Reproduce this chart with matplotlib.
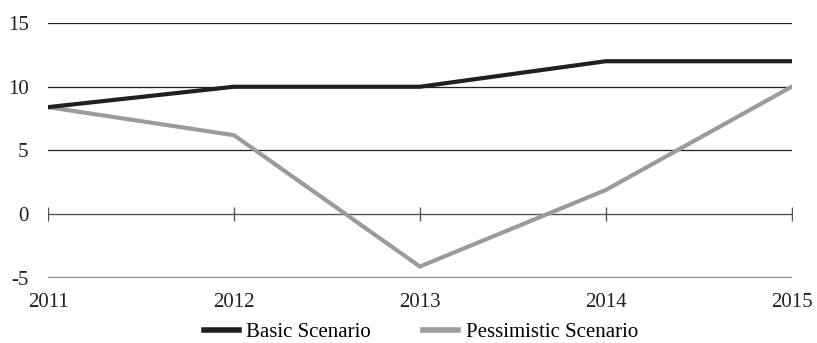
import matplotlib.pyplot as plt

# scenario data
years = [2011, 2012, 2013, 2014, 2015]
basic = [8.4, 10.0, 10.0, 12.0, 12.0]
pessimistic = [8.4, 6.2, -4.1, 1.9, 10.0]
y_ticks = [-5, 0, 5, 10, 15]

plt.rcParams["font.family"] = ["Liberation Serif", "DejaVu Serif"]
plt.rcParams["axes.unicode_minus"] = False

fig = plt.figure(figsize=(8.17, 3.43), dpi=100)
ax = fig.add_axes([0.0588, 0.1895, 0.9102, 0.7435])

# horizontal reference lines
for v in y_ticks:
    if v > 0:
        ax.axhline(v, color="#231f20", linewidth=0.9, zorder=1)
ax.axhline(-5, color="#8a8a8a", linewidth=1.6, zorder=1)
# zero line with year ticks
ax.plot(years, [0] * len(years), color="#555555", linewidth=1.0,
        marker="|", markersize=9.5, markeredgewidth=1.0, zorder=1)

ax.plot(years, basic, color="#231f20", linewidth=3.0, label="Basic Scenario",
        solid_joinstyle="miter", zorder=3)
ax.plot(years, pessimistic, color="#9b9b9b", linewidth=3.0,
        label="Pessimistic Scenario", solid_joinstyle="miter", zorder=2)

ax.set_xlim(years[0], years[-1])
ax.set_ylim(-5, 15)
ax.set_xticks(years)
ax.set_yticks(y_ticks)
ax.tick_params(axis="both", length=0, labelsize=15, colors="#231f20")
ax.tick_params(axis="y", pad=14)
ax.tick_params(axis="x", pad=11)
for s in ax.spines.values():
    s.set_visible(False)

handles, labels = ax.get_legend_handles_labels()
leg = fig.legend(handles, labels, loc="center", bbox_to_anchor=(0.515, 0.032),
                 ncol=2, frameon=False, fontsize=15, handlelength=1.7,
                 handletextpad=0.35, columnspacing=2.5, borderpad=0)
for h in leg.get_lines():
    h.set_linewidth(4)

fig.savefig("out.png", dpi=100)
